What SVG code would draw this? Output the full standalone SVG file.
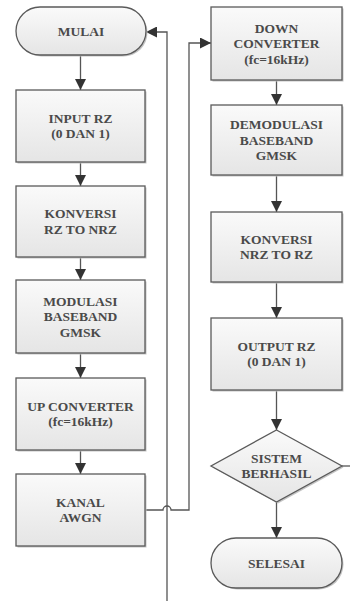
<svg xmlns="http://www.w3.org/2000/svg" width="350" height="601" viewBox="0 0 350 601">
  <style>
    .box { fill: url(#fillGrad); stroke: #5a5a5a; stroke-width: 1.3; }
    .shadow { fill: #c4c4c4; }
    .lbl { font-family: "Liberation Serif", "Times New Roman", serif; font-size: 13.5px; font-weight: bold; fill: #4a4a4a; text-anchor: middle; }
    .wire { fill: none; stroke: #555555; stroke-width: 1.3; }
  </style>
  <defs>
    <linearGradient id="fillGrad" x1="0" y1="0" x2="0" y2="1">
      <stop offset="0" stop-color="#fafafa"/>
      <stop offset="1" stop-color="#e5e5e5"/>
    </linearGradient>
    <marker id="arrow" markerUnits="userSpaceOnUse" markerWidth="11" markerHeight="11" viewBox="0 0 10 10" refX="10" refY="5" orient="auto">
      <path d="M0,0 L10,5 L0,10 Z" fill="#333333"/>
    </marker>
  </defs>

  <!-- connectors -->
  <g id="connectors">
    <line class="wire" x1="80.5" y1="55" x2="80.5" y2="90" marker-end="url(#arrow)"/>
    <line class="wire" x1="80.5" y1="162" x2="80.5" y2="186" marker-end="url(#arrow)"/>
    <line class="wire" x1="80.5" y1="257" x2="80.5" y2="280" marker-end="url(#arrow)"/>
    <line class="wire" x1="80.5" y1="353" x2="80.5" y2="378" marker-end="url(#arrow)"/>
    <line class="wire" x1="80.5" y1="450" x2="80.5" y2="474" marker-end="url(#arrow)"/>
    <line class="wire" x1="276.5" y1="80" x2="276.5" y2="105" marker-end="url(#arrow)"/>
    <line class="wire" x1="276.5" y1="175" x2="276.5" y2="212" marker-end="url(#arrow)"/>
    <line class="wire" x1="276.5" y1="282" x2="276.5" y2="318" marker-end="url(#arrow)"/>
    <line class="wire" x1="276.5" y1="390" x2="276.5" y2="430" marker-end="url(#arrow)"/>
    <line class="wire" x1="276.5" y1="502" x2="276.5" y2="538" marker-end="url(#arrow)"/>
    <!-- return path into MULAI -->
    <path class="wire" d="M167,601 V32 H146" marker-end="url(#arrow)"/>
    <!-- channel output to down converter, hopping over the return path -->
    <path class="wire" d="M145,510 H163 A4,4 0 0 1 171,510 H189 V43 H211" marker-end="url(#arrow)"/>
    <!-- decision exit -->
    <line class="wire" x1="342" y1="466" x2="350" y2="466"/>
  </g>

  <g id="mulai">
    <rect class="shadow" x="17.5" y="8.5" width="130" height="48" rx="24"/>
    <rect class="box" x="16" y="7" width="130" height="48" rx="24"/>
    <text class="lbl" x="81" y="35.6">MULAI</text>
  </g>

  <g id="input-rz">
    <rect class="shadow" x="17.5" y="91.5" width="129" height="72"/>
    <rect class="box" x="16" y="90" width="129" height="72"/>
    <text class="lbl" x="80.5" y="122.9">INPUT RZ</text>
    <text class="lbl" x="80.5" y="138.4">(0 DAN 1)</text>
  </g>

  <g id="konversi-rz-nrz">
    <rect class="shadow" x="17.5" y="187.5" width="129" height="71"/>
    <rect class="box" x="16" y="186" width="129" height="71"/>
    <text class="lbl" x="80.5" y="218.4">KONVERSI</text>
    <text class="lbl" x="80.5" y="233.9">RZ TO NRZ</text>
  </g>

  <g id="modulasi">
    <rect class="shadow" x="17.5" y="281.5" width="129" height="73"/>
    <rect class="box" x="16" y="280" width="129" height="73"/>
    <text class="lbl" x="80.5" y="305.6">MODULASI</text>
    <text class="lbl" x="80.5" y="321.1">BASEBAND</text>
    <text class="lbl" x="80.5" y="336.6">GMSK</text>
  </g>

  <g id="up-converter">
    <rect class="shadow" x="17.5" y="379.5" width="129" height="72"/>
    <rect class="box" x="16" y="378" width="129" height="72"/>
    <text class="lbl" x="80.5" y="410.9">UP CONVERTER</text>
    <text class="lbl" x="80.5" y="426.4">(fc=16kHz)</text>
  </g>

  <g id="kanal-awgn">
    <rect class="shadow" x="17.5" y="475.5" width="129" height="72"/>
    <rect class="box" x="16" y="474" width="129" height="72"/>
    <text class="lbl" x="80.5" y="506.9">KANAL</text>
    <text class="lbl" x="80.5" y="522.4">AWGN</text>
  </g>

  <g id="down-converter">
    <rect class="shadow" x="212.5" y="8.5" width="131" height="73"/>
    <rect class="box" x="211" y="7" width="131" height="73"/>
    <text class="lbl" x="276.5" y="32.6">DOWN</text>
    <text class="lbl" x="276.5" y="48.1">CONVERTER</text>
    <text class="lbl" x="276.5" y="63.6">(fc=16kHz)</text>
  </g>

  <g id="demodulasi">
    <rect class="shadow" x="212.5" y="106.5" width="131" height="70"/>
    <rect class="box" x="211" y="105" width="131" height="70"/>
    <text class="lbl" x="276.5" y="129.1">DEMODULASI</text>
    <text class="lbl" x="276.5" y="144.6">BASEBAND</text>
    <text class="lbl" x="276.5" y="160.1">GMSK</text>
  </g>

  <g id="konversi-nrz-rz">
    <rect class="shadow" x="212.5" y="213.5" width="131" height="70"/>
    <rect class="box" x="211" y="212" width="131" height="70"/>
    <text class="lbl" x="276.5" y="243.9">KONVERSI</text>
    <text class="lbl" x="276.5" y="259.4">NRZ TO RZ</text>
  </g>

  <g id="output-rz">
    <rect class="shadow" x="212.5" y="319.5" width="131" height="72"/>
    <rect class="box" x="211" y="318" width="131" height="72"/>
    <text class="lbl" x="276.5" y="350.9">OUTPUT RZ</text>
    <text class="lbl" x="276.5" y="366.4">(0 DAN 1)</text>
  </g>

  <g id="sistem-berhasil">
    <polygon class="shadow" points="278,431.5 343.5,467.5 278,503.5 212.5,467.5"/>
    <polygon class="box" points="276.5,430 342,466 276.5,502 211,466"/>
    <text class="lbl" x="276.5" y="462.9">SISTEM</text>
    <text class="lbl" x="276.5" y="478.4">BERHASIL</text>
  </g>

  <g id="selesai">
    <rect class="shadow" x="212.5" y="539.5" width="131" height="50" rx="25"/>
    <rect class="box" x="211" y="538" width="131" height="50" rx="25"/>
    <text class="lbl" x="276.5" y="567.6">SELESAI</text>
  </g>
</svg>
